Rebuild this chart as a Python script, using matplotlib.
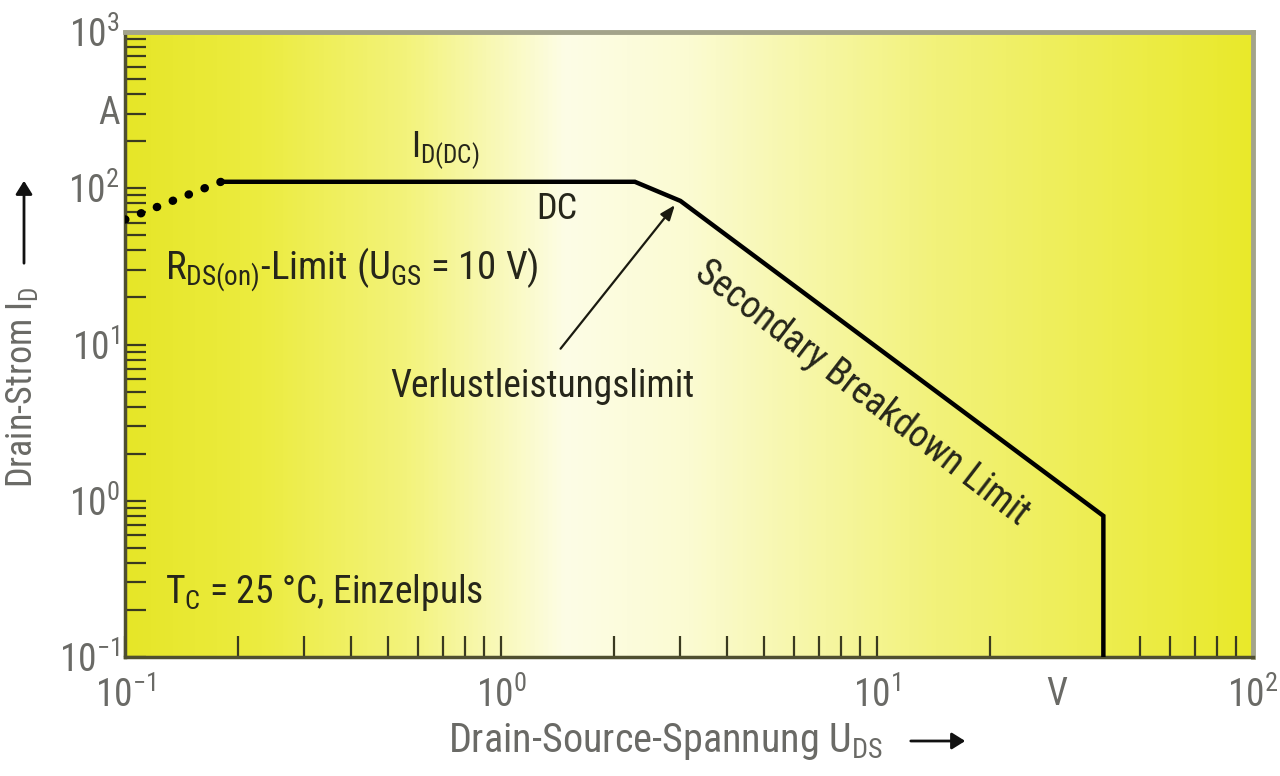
import numpy as np
import matplotlib
matplotlib.use("Agg")
import matplotlib.pyplot as plt
from matplotlib import font_manager
from matplotlib.colors import LinearSegmentedColormap
from matplotlib.ticker import FixedLocator, LogLocator, NullFormatter

# narrow font if available
FONT = "DejaVu Sans"
for cand in ["Liberation Sans Narrow", "Roboto Condensed", "Liberation Sans"]:
    try:
        font_manager.findfont(cand, fallback_to_default=False)
        FONT = cand
        break
    except Exception:
        pass

plt.rcParams["font.family"] = [FONT, "DejaVu Sans"]
plt.rcParams["mathtext.fontset"] = "custom"
plt.rcParams["mathtext.rm"] = FONT
plt.rcParams["mathtext.it"] = FONT
plt.rcParams["mathtext.bf"] = FONT

# safe operating area curve (U_DS in V, I_D in A)
rds_u = [0.1, 0.18]
rds_i = [63, 110]
soa_u = [0.18, 2.27, 3.0, 40, 40]
soa_i = [110, 110, 83, 0.8, 0.1]

x_ticks = [0.1, 1, 10, 30, 100]
x_labels = [r"$10^{-1}$", r"$10^{0}$", r"$10^{1}$", "V", r"$10^{2}$"]
y_ticks = [0.1, 1, 10, 100, 320, 1000]
y_labels = [r"$10^{-1}$", r"$10^{0}$", r"$10^{1}$", r"$10^{2}$", "A", r"$10^{3}$"]

TXT = "#26261a"
TICK = "#6a6a66"

fig = plt.figure(figsize=(12.8, 7.76), dpi=100)
ax = fig.add_axes([125 / 1280, 1 - 657 / 776, 1128 / 1280, 625 / 776])
ax.set_xscale("log")
ax.set_yscale("log")
ax.set_xlim(0.1, 100)
ax.set_ylim(0.1, 1000)

# yellow / white / yellow background gradient
cmap = LinearSegmentedColormap.from_list("bg", [
    (0.0, "#e6e628"), (0.12, "#ecec40"), (0.25, "#f3f37c"),
    (0.39, "#fdfde6"), (0.5, "#fbfbd2"), (0.72, "#f2f27a"), (1.0, "#e9e92a")])
grad = np.linspace(0, 1, 512).reshape(1, -1)
ax.imshow(grad, cmap=cmap, aspect="auto", extent=[0, 1, 0, 1],
          transform=ax.transAxes, zorder=0)

ax.plot(rds_u, rds_i, color="black", lw=6, linestyle=(0, (0.05, 2.0)),
        dash_capstyle="round", zorder=3)
ax.plot(soa_u, soa_i, color="black", lw=3.2, solid_joinstyle="miter", zorder=3)

for side in ["left", "bottom"]:
    ax.spines[side].set_color("#4f4f30")
    ax.spines[side].set_linewidth(2.5)
for side in ["top", "right"]:
    ax.spines[side].set_color("#a3a38a")
    ax.spines[side].set_linewidth(3.5)

ax.xaxis.set_major_locator(FixedLocator(x_ticks))
ax.set_xticklabels(x_labels)
ax.yaxis.set_major_locator(FixedLocator(y_ticks))
ax.set_yticklabels(y_labels)
ax.xaxis.set_minor_locator(LogLocator(base=10, subs=np.arange(2, 10)))
ax.yaxis.set_minor_locator(LogLocator(base=10, subs=np.arange(2, 10)))
ax.xaxis.set_minor_formatter(NullFormatter())
ax.yaxis.set_minor_formatter(NullFormatter())
ax.tick_params(which="both", direction="in", length=15, width=1.6,
               color="#3a3a20", labelcolor=TICK, labelsize=27)
ax.tick_params(axis="x", which="both", top=False, pad=14)
ax.tick_params(axis="y", which="both", right=False, pad=4)
# 'A' and 'V' are unit labels, not extra ticks
ax.xaxis.get_major_ticks()[3].tick1line.set_visible(False)
ax.yaxis.get_major_ticks()[4].tick1line.set_visible(False)

ax.text(0.71, 175, r"$I_{D(DC)}$", color=TXT, fontsize=26, ha="center", va="center")
ax.text(1.41, 74, "DC", color=TXT, fontsize=26, ha="center", va="center")
ax.text(0.128, 30, r"$R_{DS(on)}$-Limit ($U_{GS}$ = 10 V)", color=TXT,
        fontsize=28, ha="left", va="center")
ax.text(1.29, 5.4, "Verlustleistungslimit", color=TXT, fontsize=27,
        ha="center", va="center")
ax.annotate("", xy=(2.9, 78), xytext=(1.44, 9.4),
            arrowprops=dict(arrowstyle="-|>,head_length=0.9,head_width=0.35",
                            color="#1a1a10", lw=1.6, shrinkA=0, shrinkB=0))
ax.text(9.1, 4.9, "Secondary Breakdown Limit", color=TXT, fontsize=27,
        rotation=-37.5, rotation_mode="anchor", ha="center", va="center")
ax.text(0.128, 0.26, r"$T_C$ = 25 °C, Einzelpuls", color=TXT, fontsize=27,
        ha="left", va="center")

# axis titles with arrows
fig.text(448 / 1280, 1 - 741 / 776, r"Drain-Source-Spannung $U_{DS}$", color=TICK,
         fontsize=29, ha="left", va="center")
fig.patches.append(matplotlib.patches.FancyArrowPatch(
    (908 / 1280, 1 - 741 / 776), (968 / 1280, 1 - 741 / 776),
    transform=fig.transFigure, arrowstyle="-|>,head_length=8,head_width=5",
    color="#111111", lw=2))

fig.text(22 / 1280, 1 - 488 / 776, r"Drain-Strom $I_D$", color=TICK,
         fontsize=26, rotation=90, ha="center", va="bottom")
fig.patches.append(matplotlib.patches.FancyArrowPatch(
    (24 / 1280, 1 - 266 / 776), (24 / 1280, 1 - 178 / 776),
    transform=fig.transFigure, arrowstyle="-|>,head_length=8,head_width=5",
    color="#111111", lw=2))

fig.savefig("out.png", dpi=100, facecolor="white")
